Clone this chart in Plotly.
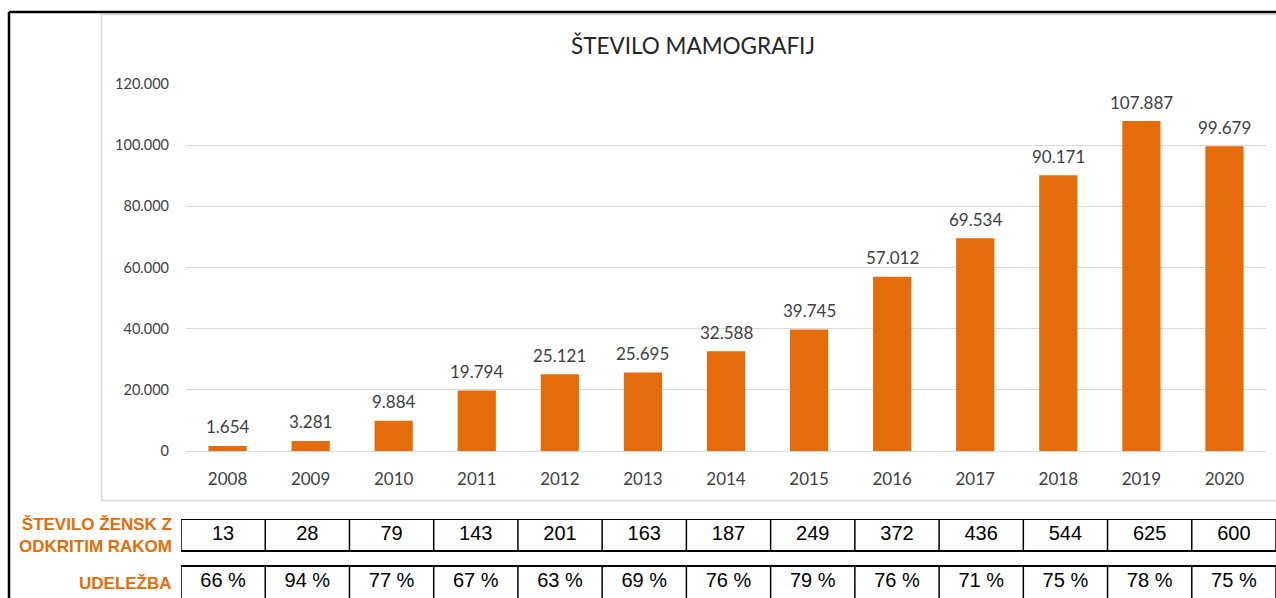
import plotly.graph_objects as go

years = ["2008", "2009", "2010", "2011", "2012", "2013", "2014", "2015", "2016", "2017", "2018", "2019", "2020"]
mammograms = [1654, 3281, 9884, 19794, 25121, 25695, 32588, 39745, 57012, 69534, 90171, 107887, 99679]
women_cancer = ["13", "28", "79", "143", "201", "163", "187", "249", "372", "436", "544", "625", "600"]
participation = ["66 %", "94 %", "77 %", "67 %", "63 %", "69 %", "76 %", "79 %", "76 %", "71 %", "75 %", "78 %", "75 %"]
y_ticks = [0, 20000, 40000, 60000, 80000, 100000, 120000]

title_text = "ŠTEVILO MAMOGRAFIJ"
row1_label = "ŠTEVILO ŽENSK Z<br>ODKRITIM RAKOM"
row2_label = "UDELEŽBA"

W, H = 1276, 598
ML, MR, MT, MB = 181, 0, 84, 0
PW, PH = W - ML - MR, H - MT - MB


def px(x):
    return (x - ML) / PW


def py(y):
    return (H - MB - y) / PH


ORANGE = "#E46C0A"
GRID = "#D9D9D9"
TXT = "#404040"
TABLE_FONT = "Liberation Sans Narrow, Liberation Sans, Arial"
n = len(years)

fig = go.Figure()
fig.add_trace(go.Bar(
    x=years, y=mammograms, marker=dict(color=ORANGE, line=dict(width=0)),
    width=0.46, hoverinfo="skip", xaxis="x", yaxis="y",
))

# table text
fig.add_trace(go.Scatter(
    x=years, y=[16] * n, text=women_cancer, mode="text",
    textfont=dict(family=TABLE_FONT, size=20, color="#000000"),
    xaxis="x2", yaxis="y2", hoverinfo="skip", cliponaxis=False,
))
fig.add_trace(go.Scatter(
    x=years, y=[63] * n, text=participation, mode="text",
    textfont=dict(family=TABLE_FONT, size=20, color="#000000"),
    xaxis="x2", yaxis="y2", hoverinfo="skip", cliponaxis=False,
))

shapes = []
# outer black frame
shapes.append(dict(type="line", xref="paper", yref="paper", x0=px(9), x1=px(1290), y0=py(12), y1=py(12),
                   line=dict(color="#000000", width=2.5), layer="above"))
shapes.append(dict(type="line", xref="paper", yref="paper", x0=px(9), x1=px(9), y0=py(12), y1=py(610),
                   line=dict(color="#000000", width=2.5), layer="above"))
# inner chart box
shapes.append(dict(type="rect", xref="paper", yref="paper", x0=px(101.5), x1=px(1300), y0=py(14.5), y1=py(500.5),
                   line=dict(color=GRID, width=1.5), layer="below"))

# table grid
for (ya, yb) in [(0, 32), (47, 80)]:
    for yy in (ya, yb):
        shapes.append(dict(type="line", xref="x2", yref="y2", x0=-0.5, x1=n - 0.5, y0=yy, y1=yy,
                           line=dict(color="#000000", width=2)))
    for i in range(n + 1):
        shapes.append(dict(type="line", xref="x2", yref="y2", x0=i - 0.5, x1=i - 0.5, y0=ya, y1=yb,
                           line=dict(color="#000000", width=1.5)))

annotations = [
    dict(text=title_text, xref="paper", yref="paper", x=px(693), y=py(45), showarrow=False,
         font=dict(family="Lato", size=22.5, color="#262626"), xanchor="center", yanchor="middle"),
    dict(text="<b>" + row1_label + "</b>", xref="paper", yref="paper", x=px(174), y=py(535), showarrow=False,
         font=dict(family="Liberation Sans, Arial", size=17, color=ORANGE), xanchor="right", yanchor="middle",
         align="right"),
    dict(text="<b>" + row2_label + "</b>", xref="paper", yref="paper", x=px(174), y=py(583), showarrow=False,
         font=dict(family="Liberation Sans, Arial", size=17, color=ORANGE), xanchor="right", yanchor="middle",
         align="right"),
]
# bar value labels (x given as category index)
for i, v in enumerate(mammograms):
    annotations.append(dict(
        text=f"{v:,}".replace(",", "."), xref="x", yref="y", x=i, y=v, showarrow=False,
        xanchor="center", yanchor="middle", yshift=19,
        font=dict(family="Lato", size=17, color=TXT),
    ))

fig.update_layout(
    width=W, height=H, autosize=False, margin=dict(l=ML, r=MR, t=MT, b=MB, pad=0, autoexpand=False),
    paper_bgcolor="white", plot_bgcolor="white", showlegend=False,
    separators=",.",
    xaxis=dict(domain=[px(186), px(1266)], type="category", categoryorder="array", categoryarray=years,
               range=[-0.5, n - 0.5], showgrid=False, showline=False, zeroline=False,
               ticks="", tickfont=dict(family="Lato", size=17, color=TXT), ticklabelstandoff=16,
               anchor="y", fixedrange=True, automargin=False),
    yaxis=dict(domain=[py(451), py(84)], range=[0, 120000], tickvals=y_ticks, tickformat=",d",
               showgrid=True, gridcolor=GRID, gridwidth=1, zeroline=True, zerolinecolor=GRID, zerolinewidth=1,
               showline=False, ticks="", tickfont=dict(family="Lato", size=14.5, color=TXT),
               ticklabelstandoff=16, anchor="x", fixedrange=True, automargin=False),
    xaxis2=dict(domain=[0, 1], type="category", categoryorder="array", categoryarray=years,
                range=[-0.5, n - 0.5], visible=False, anchor="y2", automargin=False, fixedrange=True),
    yaxis2=dict(domain=[0, py(519)], range=[79, 0], visible=False, anchor="x2",
                automargin=False, fixedrange=True),
    shapes=shapes, annotations=annotations,
)

fig.write_html(
    "out.html",
    config={"displayModeBar": False, "responsive": False},
    post_script="document.body.style.margin='0';document.body.style.overflow='hidden';",
)
